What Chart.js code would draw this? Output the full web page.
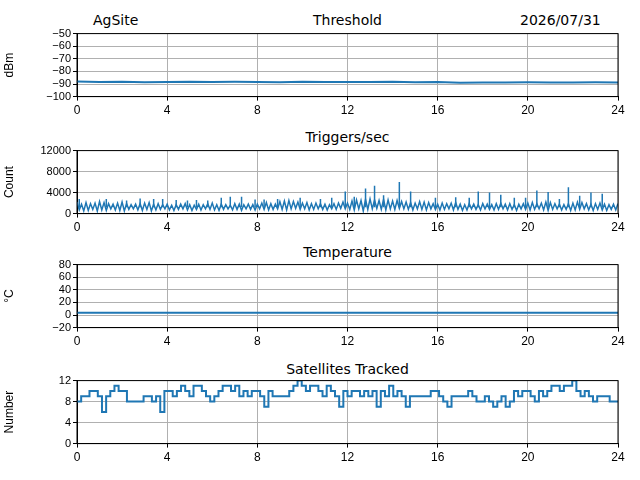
<!DOCTYPE html>
<html><head><meta charset="utf-8">
<script src="https://cdn.jsdelivr.net/npm/chart.js@4"></script>
<style>
body{margin:0;width:640px;height:480px;background:#fff;position:relative;font-family:"DejaVu Sans",sans-serif;overflow:hidden}
canvas{position:absolute;left:0}
.t{position:absolute;font-size:14px;color:#000;white-space:nowrap}
</style></head><body>
<div class="t" style="left:93px;top:12px">AgSite</div>
<div class="t" style="left:520px;top:12px">2026/07/31</div>
<div class="t" style="left:0;width:695px;text-align:center;top:12px">Threshold</div>
<div class="t" style="left:0;width:695px;text-align:center;top:129px">Triggers/sec</div>
<div class="t" style="left:0;width:695px;text-align:center;top:244px">Temperature</div>
<div class="t" style="left:0;width:695px;text-align:center;top:361px">Satellites Tracked</div>
<canvas id="c1"></canvas><canvas id="c2"></canvas><canvas id="c3"></canvas><canvas id="c4"></canvas>
<script>
const BLUE = '#1f77b4';
// Threshold (dBm), evenly spaced over 0-24 h
const threshold = [-88,-88.5,-88.3,-88.6,-88.4,-88.2,-88.5,-88.3,-88.4,-88.6,-88.3,-88.5,-88.5,-88.4,-88.2,-88.6,-88.5,-89,-88.8,-88.9,-88.7,-88.8,-88.9,-88.7,-88.8];
// Triggers/sec band (upper / lower edge), evenly spaced
const trigHi = [2200,1800,2100,1900,2000,2300,2100,1900,1800,2000,2200,1900,1700,1800,1900,2000,2100,1800,1900,1700,1800,1600,1700,1800,1900,1700,1600,1800,1700,1900,2000,1700,1800,1700,1600,1900,1800,1700,1800,1700,1800,2000,2100,1900,1800,2300,2400,2500,2300,2200,2000,2100,1900,2000,1900,1800,1700,1900,2000,2200,2000,2400,2600,2500,2700,2800,2600,2500,2700,2600,2400,2500,2300,2200,2100,2000,2300,2200,2100,1900,1800,2000,1900,2000,2100,1800,1700,1900,1800,1700,1900,1800,1700,1900,2000,1800,1900,1700,1800,1900,2000,2100,1900,2000,2200,2100,1900,1800,1700,1900,2000,2200,2100,1900,1800,1900,2000,1800,1700,1800,1900];
const trigLo = [700,500,600,800,500,700,600,900,700,600,500,800,900,700,600,800,500,700,800,900,700,600,800,900,700,600,800,700,900,800,700,600,800,900,700,800,600,900,800,700,900,800,700,800,900,800,700,900,1000,800,900,700,800,900,800,700,900,800,1000,900,800,700,900,500,800,900,1000,800,700,900,800,1000,900,800,700,900,800,700,900,800,700,800,900,700,800,600,700,900,800,700,900,800,700,800,900,700,800,600,900,800,700,800,900,700,600,800,900,700,800,600,700,800,900,700,600,800,700,600,800,700,600];
// Trigger spikes: time (h) and peak count
const spikeT = [0.1,1.3,2.2,2.8,3.4,3.8,4.4,4.9,5.3,5.8,6.4,6.8,7.3,7.9,8.3,8.9,9.9,10.8,11.3,11.9,12.3,12.8,13.2,13.6,14.3,14.8,15.9,16.8,17.4,17.8,18.3,18.8,19.4,19.9,20.4,20.9,21.4,21.8,22.3,22.8,23.3];
const spikeY = [2800,2800,2500,2900,2800,2800,2600,2500,2600,2500,3000,3200,3200,2700,2700,2800,3000,2800,3000,4200,3200,4800,5300,3500,6000,4200,3000,3100,3000,4200,4000,3600,3000,3000,4400,4100,2800,5000,3400,4000,3800];
// Temperature (°C)
const temperature = [3.5,3.5,3.4,3.5,3.5,3.6,3.5,3.5,3.4,3.5,3.5,3.5,3.5];
// Satellites tracked, evenly spaced
const sats = [8,9,9,10,10,9,6,9,10,11,10,10,8,8,8,8,9,9,8,9,6,10,10,9,10,11,10,9,11,11,10,9,8,9,10,11,11,10,11,9,10,9,10,10,9,7,10,9,9,9,9,10,11,12,11,10,11,11,10,9,11,10,9,7,10,9,10,10,9,10,9,10,7,10,9,11,9,10,9,7,9,9,9,9,9,10,10,9,8,7,9,9,9,9,10,9,8,8,9,8,7,8,9,7,8,10,9,10,10,9,8,10,9,10,11,11,10,11,11,12,10,9,10,9,8,9,9,9,8,8,8];

const even = arr => arr.map((v, i) => ({x: i * 24 / (arr.length - 1), y: v}));
const bandPts = [];
trigHi.forEach((v, i) => {
  const t = i * 24 / (trigHi.length - 1);
  bandPts.push({x: t, y: v});
  if (i < trigLo.length - 1) bandPts.push({x: t + 12 / (trigHi.length - 1), y: trigLo[i]});
});
const spikePts = [];
spikeT.forEach((t, i) => { spikePts.push({x: t, y: 1200}, {x: t, y: spikeY[i]}, {x: t, y: null}); });

const frame = {id: 'frame', afterDraw(c) {
  const a = c.chartArea, ctx = c.ctx;
  ctx.save(); ctx.strokeStyle = '#000'; ctx.lineWidth = 1;
  ctx.strokeRect(a.left, a.top, a.right - a.left, a.bottom - a.top); ctx.restore();
}};

function panel(id, top, datasets, ymin, ymax, ystep, ylabel) {
  const el = document.getElementById(id);
  el.style.top = top + 'px';
  el.width = 640; el.height = 96;
  el.style.width = '640px'; el.style.height = '96px';
  new Chart(el, {
    type: 'line',
    data: {datasets},
    plugins: [frame],
    options: {
      responsive: false, animation: false,
      layout: {padding: {top: 8, right: 22, left: 0, bottom: 0}},
      plugins: {legend: {display: false}, tooltip: {enabled: false}},
      elements: {point: {radius: 0}},
      scales: {
        x: {type: 'linear', min: 0, max: 24,
            ticks: {stepSize: 4, autoSkip: false, color: '#000', font: {size: 12}, maxRotation: 0},
            grid: {color: '#b0b0b0', tickColor: '#000', tickLength: 4}, border: {color: '#000'}},
        y: {min: ymin, max: ymax,
            ticks: {stepSize: ystep, autoSkip: false, color: '#000', font: {size: 11}, padding: 2,
                    callback: v => String(v).replace('-', '\u2212')},
            title: {display: true, text: ylabel, color: '#000', font: {size: 12}, padding: 2},
            grid: {color: '#b0b0b0', tickColor: '#000', tickLength: 4}, border: {color: '#000'},
            afterFit(s) { s.width = 77; }}
      }
    }
  });
}
const ds = (data, extra) => Object.assign({data, borderColor: BLUE, borderWidth: 2, spanGaps: false}, extra || {});
panel('c1', 25, [ds(even(threshold))], -100, -50, 10, 'dBm');
panel('c2', 142, [ds(bandPts, {borderWidth: 1.5}), ds(spikePts, {borderWidth: 1.5})], 0, 12000, 4000, 'Count');
panel('c3', 256, [ds(even(temperature))], -20, 80, 20, '°C');
panel('c4', 372, [ds(even(sats), {stepped: true})], 0, 12, 4, 'Number');
</script></body></html>
